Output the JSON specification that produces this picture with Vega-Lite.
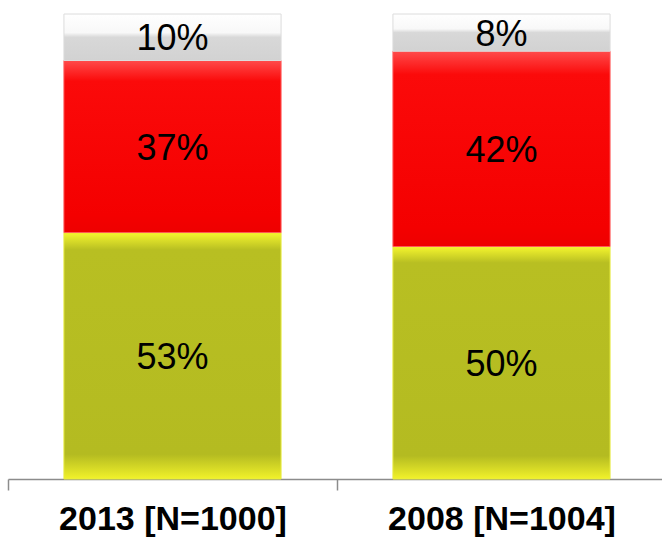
{
  "$schema": "https://vega.github.io/schema/vega-lite/v6.json",
  "width": 658,
  "height": 465,
  "autosize": {"type": "none"},
  "padding": {"left": 8, "top": 14, "right": 0, "bottom": 74},
  "background": "white",
  "config": {"view": {"stroke": null}},
  "data": {"values": [
    {"year": "2013 [N=1000]", "cat": "A", "ord": 1, "value": 53, "label": "53%"},
    {"year": "2013 [N=1000]", "cat": "B", "ord": 2, "value": 37, "label": "37%"},
    {"year": "2013 [N=1000]", "cat": "C", "ord": 3, "value": 10, "label": "10%"},
    {"year": "2008 [N=1004]", "cat": "A", "ord": 1, "value": 50, "label": "50%"},
    {"year": "2008 [N=1004]", "cat": "B", "ord": 2, "value": 42, "label": "42%"},
    {"year": "2008 [N=1004]", "cat": "C", "ord": 3, "value": 8, "label": "8%"}
  ]},
  "transform": [
    {"stack": "value", "groupby": ["year"], "sort": [{"field": "ord"}], "as": ["y0", "y1"]},
    {"calculate": "(datum.y0 + datum.y1) / 2", "as": "ymid"}
  ],
  "encoding": {
    "x": {
      "field": "year", "type": "nominal", "sort": null,
      "scale": {"paddingInner": 0, "paddingOuter": 0},
      "axis": {
        "title": null, "labelAngle": 0, "domainColor": "#8c8c8c", "tickColor": "#8c8c8c",
        "tickBand": "extent", "tickSize": 11, "labelFont": "Liberation Sans",
        "labelFontSize": 34, "labelFontWeight": "bold", "labelColor": "black",
        "labelPadding": 12, "labelLimit": 0, "domainWidth": 1.5, "tickWidth": 1.5
      }
    },
    "y": {"field": "y0", "type": "quantitative", "scale": {"domain": [0, 100]}, "axis": null},
    "y2": {"field": "y1"}
  },
  "layer": [
    {
      "transform": [{"filter": "datum.cat === 'A'"}],
      "mark": {"type": "bar", "width": {"band": 0.66}, "stroke": "#e8ec40", "strokeWidth": 1,
        "color": {"gradient": "linear", "x1": 0, "y1": 0, "x2": 0, "y2": 1,
          "stops": [
            {"offset": 0, "color": "#f6f62e"},
            {"offset": 0.07, "color": "#b8bf22"},
            {"offset": 0.9, "color": "#b4bb21"},
            {"offset": 1, "color": "#f2f22a"}
          ]}}
    },
    {
      "transform": [{"filter": "datum.cat === 'B'"}],
      "mark": {"type": "bar", "width": {"band": 0.66}, "stroke": "#ff5a5a", "strokeWidth": 1,
        "color": {"gradient": "linear", "x1": 0, "y1": 0, "x2": 0, "y2": 1,
          "stops": [
            {"offset": 0, "color": "#ff4b4b"},
            {"offset": 0.12, "color": "#fb0a0a"},
            {"offset": 0.9, "color": "#f40000"},
            {"offset": 1, "color": "#ee0000"}
          ]}}
    },
    {
      "transform": [{"filter": "datum.cat === 'C'"}],
      "mark": {"type": "bar", "width": {"band": 0.66}, "stroke": "#dcdcdc", "strokeWidth": 1,
        "color": {"gradient": "linear", "x1": 0, "y1": 0, "x2": 0, "y2": 1,
          "stops": [
            {"offset": 0, "color": "#ffffff"},
            {"offset": 0.4, "color": "#f8f8f8"},
            {"offset": 0.5, "color": "#d8d8d8"},
            {"offset": 1, "color": "#d2d2d2"}
          ]}}
    },
    {
      "mark": {"type": "text", "font": "Liberation Sans", "fontSize": 36, "color": "black", "baseline": "middle", "dy": 2},
      "encoding": {
        "y": {"field": "ymid", "type": "quantitative", "scale": {"domain": [0, 100]}},
        "y2": null,
        "text": {"field": "label"}
      }
    }
  ]
}
